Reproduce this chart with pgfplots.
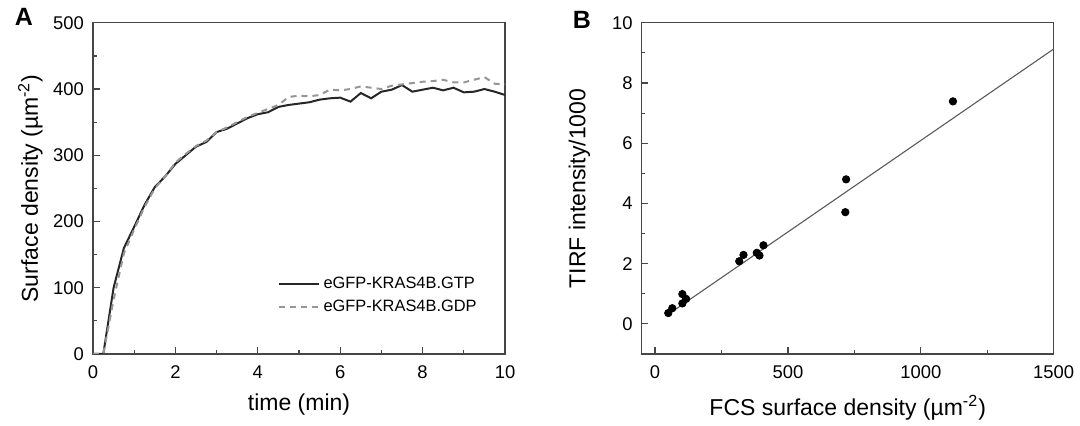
\documentclass[border=0pt]{standalone}
\usepackage{fontspec}
\setmainfont{Liberation Sans}
\usepackage{pgfplots}
\pgfplotsset{compat=1.18}

\definecolor{axisgray}{RGB}{70,70,70}
\definecolor{dashgray}{RGB}{150,150,150}
\definecolor{fitgray}{RGB}{90,90,90}

\pgfplotsset{
  panel/.style={
    scale only axis,
    width=206pt, height=165.6pt,
    anchor=south west,
    axis line style={axisgray, line width=0.7pt},
    every tick/.style={axisgray, line width=0.6pt},
    tick pos=left,
    tick align=inside,
    major tick length=3.3pt,
    minor tick length=1.8pt,
    minor tick num=1,
    tick label style={font=\fontsize{9.2}{10}\selectfont},
    xticklabel style={yshift=-2.5pt},
    yticklabel style={xshift=-1pt},
    label style={font=\fontsize{11.5}{13}\selectfont},
    /pgf/number format/assume math mode=true,
    /pgf/number format/1000 sep={},
    scaled ticks=false,
  },
}

\begin{document}
\begin{tikzpicture}
\path (0,0) rectangle (540pt,213pt);

% panel A: surface density over time
\begin{axis}[panel,
  at={(46.5pt,36pt)},
  xmin=0, xmax=10, ymin=0, ymax=500,
  xtick={0,2,...,10}, ytick={0,100,...,500},
  xlabel={time (min)},
  ylabel={Surface density (µm\textsuperscript{-2})},
  xlabel style={at={(axis description cs:0.5,-0.154)}, anchor=center},
  ylabel style={at={(axis description cs:-0.152,0.5)}, anchor=center},
  legend style={draw=none, fill=none, at={(0.442,0.252)}, anchor=north west,
    font=\fontsize{8.2}{9.5}\selectfont, row sep=0.3pt, inner sep=1pt},
  legend cell align=left,
  legend image code/.code={\draw[#1] (0pt,0pt) -- (20pt,0pt);},
]
\addplot[black!85, line width=1pt] coordinates {
 (0,0) (0.25,0) (0.5,100) (0.75,160) (1.0,192) (1.25,225) (1.5,252) (1.75,268)
 (2.0,287) (2.25,300) (2.5,313) (2.75,320) (3.0,335) (3.25,340) (3.5,348)
 (3.75,356) (4.0,362) (4.25,365) (4.5,373) (4.75,376) (5.0,378) (5.25,380)
 (5.5,384) (5.75,386) (6.0,387) (6.25,381) (6.5,394) (6.75,386) (7.0,396)
 (7.25,399) (7.5,406) (7.75,396) (8.0,399) (8.25,402) (8.5,398) (8.75,402)
 (9.0,395) (9.25,396) (9.5,400) (9.75,396) (10.0,391)
};
\addlegendentry{eGFP-KRAS4B.GTP}
\addplot[dashgray, line width=1pt, dash pattern=on 3pt off 2.5pt] coordinates {
 (0,0) (0.25,0) (0.5,82) (0.75,152) (1.0,188) (1.25,222) (1.5,250) (1.75,268)
 (2.0,289) (2.25,302) (2.5,314) (2.75,322) (3.0,335) (3.25,342) (3.5,350)
 (3.75,358) (4.0,364) (4.25,370) (4.5,376) (4.75,388) (5.0,390) (5.25,389)
 (5.5,391) (5.75,399) (6.0,398) (6.25,400) (6.5,404) (6.75,402) (7.0,400)
 (7.25,405) (7.5,407) (7.75,409) (8.0,411) (8.25,412) (8.5,414) (8.75,410)
 (9.0,410) (9.25,414) (9.5,418) (9.75,408) (10.0,407)
};
\addlegendentry{eGFP-KRAS4B.GDP}
\end{axis}

% panel B: TIRF vs FCS
\begin{axis}[panel,
  at={(320.85pt,36pt)},
  xmin=-50, xmax=1500, ymin=-1, ymax=10,
  xtick={0,500,1000,1500}, ytick={0,2,...,10},
  xlabel={FCS surface density (µm\textsuperscript{-2})},
  ylabel={TIRF intensity/1000},
  xlabel style={at={(axis description cs:0.5,-0.163)}, anchor=center},
  ylabel style={at={(axis description cs:-0.151,0.5)}, anchor=center},
]
\addplot[fitgray, line width=0.55pt] coordinates {(75,0.47) (1500,9.13)};
\addplot[only marks, mark=*, mark size=1.85pt, black] coordinates {
 (50,0.36) (65,0.52) (103,0.99) (103,0.68) (117,0.83) (317,2.08) (333,2.29)
 (383,2.36) (393,2.27) (408,2.61) (716,3.71) (719,4.80) (1121,7.39)
};
\end{axis}

\node[font=\fontsize{12.5}{14}\selectfont\bfseries] at (12pt,204.5pt) {A};
\node[font=\fontsize{12.5}{14}\selectfont\bfseries] at (291pt,203pt) {B};

\pgfresetboundingbox
\path[use as bounding box] (0,0) rectangle (540pt,213pt);
\end{tikzpicture}
\end{document}
